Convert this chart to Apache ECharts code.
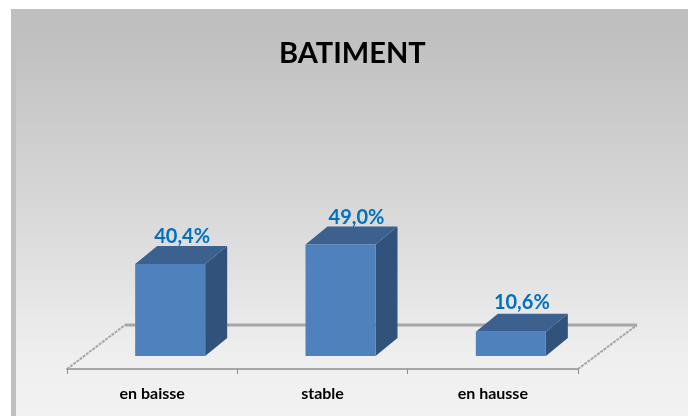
<!DOCTYPE html>
<html>
<head>
<meta charset="utf-8">
<style>html,body{margin:0;padding:0;background:#fff}#c{width:688px;height:416px}</style>
<script src="https://cdn.jsdelivr.net/npm/echarts@6/dist/echarts.min.js"></script>
</head>
<body>
<div id="c"></div>
<script>
var categories = ['en baisse', 'stable', 'en hausse'];
var values = [40.4, 49.0, 10.6];
var chartTitle = 'BATIMENT';

var DX = 22, DY = 18, LIFT = 13, SHIFT = 18, BAR_W = 70;
var FRONT = '#4f81bd', SIDE = '#31527b', TOP = '#3d618f';
var LABEL_DX = [12, 16, 11], LABEL_DY = [27, 27, 29];

function fmt(v) { return v.toFixed(1).replace('.', ',') + '%'; }

var chart = echarts.init(document.getElementById('c'), null, { renderer: 'canvas' });
chart.setOption({
  animation: false,
  title: {
    text: chartTitle, left: 274, top: 34,
    textStyle: { fontFamily: 'Lato', fontWeight: 'bold', fontSize: 29, color: '#000' }
  },
  graphic: {
    elements: [
      { type: 'rect', z: -10, shape: { x: 11, y: 9, width: 677, height: 407 }, style: { fill: '#bfbfbf' } },
      { type: 'rect', z: -9, shape: { x: 16, y: 30, width: 672, height: 386 },
        style: { fill: new echarts.graphic.LinearGradient(0, 0, 0, 1, [
          { offset: 0, color: '#bfbfbf' }, { offset: 0.48, color: '#d9d9d9' },
          { offset: 0.85, color: '#efefef' }, { offset: 1, color: '#f2f2f2' }]) } },
      { type: 'line', z: -5, shape: { x1: 125, y1: 325, x2: 637, y2: 325 }, style: { stroke: '#a6a6a6', lineWidth: 3 } },
      { type: 'line', z: -5, shape: { x1: 67, y1: 369, x2: 125, y2: 325 }, style: { stroke: '#a6a6a6', lineWidth: 2, lineDash: [3, 1] } },
      { type: 'line', z: -5, shape: { x1: 578, y1: 369, x2: 637, y2: 325 }, style: { stroke: '#a6a6a6', lineWidth: 2, lineDash: [3, 1] } }
    ]
  },
  grid: { left: 67, width: 511, top: 141.3, height: 227.7, containLabel: false },
  xAxis: {
    type: 'category', data: categories,
    axisLine: { lineStyle: { color: '#a6a6a6', width: 2 } },
    axisTick: { show: true, length: 5, alignWithLabel: false, lineStyle: { color: '#8c8c8c', width: 1 } },
    axisLabel: { margin: 17, fontFamily: 'Lato', fontWeight: 'bold', fontSize: 16, color: '#000' }
  },
  yAxis: { type: 'value', min: 0, max: 100, show: false, splitLine: { show: false } },
  series: [{
    type: 'custom',
    clip: false,
    data: values.map(function (v, i) { return [i, v]; }),
    encode: { x: 0, y: 1 },
    renderItem: function (params, api) {
      var i = params.dataIndex;
      var top = api.coord([api.value(0), api.value(1)]);
      var base = api.coord([api.value(0), 0]);
      var x0 = top[0] + SHIFT - BAR_W / 2, x1 = x0 + BAR_W;
      var yT = top[1] - LIFT, yB = base[1] - LIFT;
      return {
        type: 'group',
        children: [
          { type: 'polygon', shape: { points: [[x1, yT], [x1 + DX, yT - DY], [x1 + DX, yB - DY], [x1, yB]] }, style: { fill: SIDE } },
          { type: 'polygon', shape: { points: [[x0, yT], [x0 + DX, yT - DY], [x1 + DX, yT - DY], [x1, yT]] }, style: { fill: TOP } },
          { type: 'rect', shape: { x: x0, y: yT, width: BAR_W, height: yB - yT }, style: { fill: FRONT } },
          { type: 'text', style: {
              x: x0 + BAR_W / 2 + LABEL_DX[i], y: yT - LABEL_DY[i], text: fmt(api.value(1)), align: 'center', verticalAlign: 'middle',
              fill: '#0070c0', fontFamily: 'Lato', fontWeight: 'bold', fontSize: 20 } }
        ]
      };
    }
  }]
});
</script>
</body>
</html>
